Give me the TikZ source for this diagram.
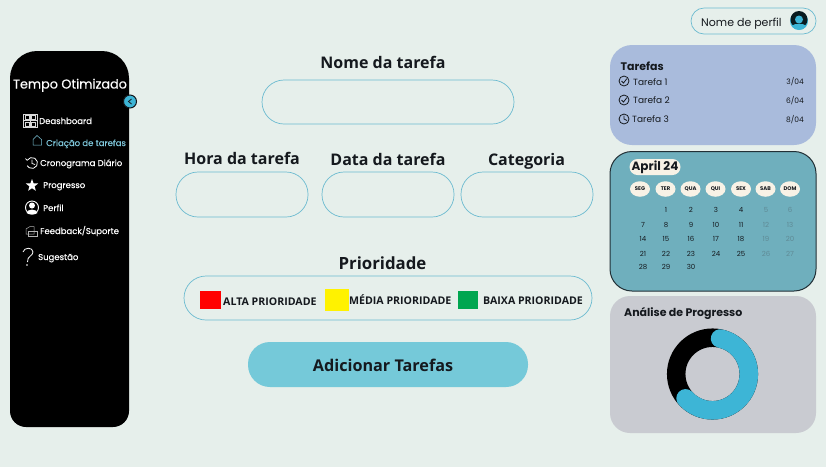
\documentclass[tikz,border=0pt]{standalone}
\usepackage{fontspec}
\setmainfont{Open Sans}
\newfontfamily\popf{Poppins}
\newfontfamily\popm[FakeBold=0.35]{Poppins}
\usetikzlibrary{shapes.geometric}
\newcommand{\fsz}[1]{\fontsize{#1}{#1}\selectfont}
\definecolor{bgc}{HTML}{E6EFEB}
\definecolor{linec}{HTML}{6CBBD0}
\definecolor{taskc}{HTML}{A9BBDC}
\definecolor{calc}{HTML}{6FAFBD}
\definecolor{anac}{HTML}{C9CBD1}
\definecolor{btnc}{HTML}{75C9D9}
\definecolor{ringc}{HTML}{3DB5D6}
\definecolor{creamc}{HTML}{F8F2E6}
\definecolor{linkc}{HTML}{7FC8DC}
\definecolor{inkc}{HTML}{15191E}
\definecolor{weekc}{HTML}{5F8A95}
\definecolor{greenc}{HTML}{00A650}
\tikzset{
 x=1pt,y=-1pt,
 field/.style={draw=linec,line width=.7pt,rounded corners=22pt},
 panel/.style={rounded corners=22pt},
 head/.style={font=\fsz{16}\bfseries,text=inkc,inner sep=0pt,anchor=base},
 prio/.style={font=\fsz{10.6}\bfseries,text=inkc,anchor=base west,inner sep=0pt},
 side/.style={font=\popm\fsz{8.5},text=white,anchor=base west,inner sep=0pt},
 task/.style={font=\popf\fsz{9},text=inkc,anchor=base west,inner sep=0pt},
 tdate/.style={font=\popf\fsz{7.5},text=inkc,anchor=base east,inner sep=0pt},
 ptitle/.style={font=\popf\fsz{11}\bfseries,text=inkc,anchor=base west,inner sep=0pt},
 wday/.style={font=\popf\fsz{5.3}\bfseries,text=inkc,fill=creamc,ellipse,inner sep=0pt,minimum width=20pt,minimum height=15.5pt},
 dnum/.style={font=\popf\fsz{7},text=inkc,inner sep=0pt},
 dwk/.style={font=\popf\fsz{7},text=weekc,inner sep=0pt},
 ico/.style={draw=inkc,line width=.8pt},
 wico/.style={draw=white,line width=.6pt},
}
\begin{document}
\begin{tikzpicture}
\useasboundingbox (0,0) rectangle (826,467);
\fill[bgc] (0,0) rectangle (826,467);

% sidebar
\fill[black] (10,200) [rounded corners=27pt] -- (10,51) -- (129,51) -- (129,200) [rounded corners=16pt] -- (129,427) -- (10,427) -- cycle;
\node[font=\popm\fsz{12.8},text=white,inner sep=0pt,anchor=base] (brand) at (70,88.5) {Tempo Otimizado};
\fill[ringc,draw=inkc,line width=1pt] (130,101.5) circle (6.5);
\draw[inkc,line width=.8pt] (131.5,99) -- (128.5,101.5) -- (131.5,104);
\node[side] (n1) at (39,124) {Deashboard};
\node[side,text=linkc] (n2) at (46,146) {Criação de tarefas};
\node[side] (n3) at (40,166) {Cronograma Diário};
\node[side] (n4) at (43,188) {Progresso};
\node[side] (n5) at (43,211) {Perfil};
\node[side] (n6) at (40,234) {Feedback/Suporte};
\node[side] (n7) at (38,260) {Sugestão};
% sidebar icons
\draw[white!85!black,line width=.5pt] (23.5,114) rectangle (37,127.5);
\foreach \a/\b/\c/\d in {25/115.5/29/119.5,31/115.5/35.5/119.5,25/122/29/126,31.5/122/35.5/126}
  \draw[white!85!black,line width=.45pt] (\a,\b) rectangle (\c,\d);
\draw[white!85!black,line width=.45pt] (23.5,120.7) -- (37,120.7) (30.2,114) -- (30.2,127.5);
\draw[linkc,line width=.5pt] (33,145) -- (33,139.5) -- (37,135.5) -- (41.5,139.5) -- (41.5,145) -- cycle;
\draw[wico,line width=.8pt] (32,163) ++(-150:5.5) arc[start angle=-150,end angle=150,radius=5.5];
\draw[wico,line width=.7pt] (32,159.5) -- (32,163.5) -- (35,164.5);
\draw[wico,line width=.7pt] (25.5,158.5) -- (27.2,160.5);
\node[star,star points=5,star point ratio=2.4,fill=white,inner sep=0pt,minimum size=13pt] (s4) at (32,185.5) {};
\draw[wico,line width=.9pt] (32,207.5) circle (6.5);
\fill[white] (32,205.5) circle (3);
\fill[white] (26.5,213) .. controls (27,208.5) and (37,208.5) .. (37.5,213) .. controls (35,215) and (29,215) .. (26.5,213);
\draw[white!70!black,line width=.5pt] (26,229) -- (30,226.5) -- (34,226.5) -- (34,234) -- (26,234) -- cycle;
\draw[white!70!black,line width=.5pt] (28,231) -- (37,231) -- (37,236) -- (28,236) -- cycle;
\draw[wico,line width=.8pt] (23,252) .. controls (24,247) and (33,247) .. (33,252) .. controls (33,256) and (27,256) .. (27.5,262);
\fill[white] (27,265) circle (.8);

% top-right profile
\node[draw=linec,line width=.7pt,fill=bgc,rounded corners=13pt,minimum width=125pt,minimum height=26pt,inner sep=0pt] (pill) at (753.5,21) {};
\node[font=\popf\fsz{11},text=inkc,anchor=base west,inner sep=0pt] (pname) at (701,26) {Nome de perfil};
\fill[ringc] (799,21) circle (9);
\fill[black!85!ringc] (799,19.5) circle (8.5);
\fill[ringc] (799,19.5) circle (4);
\fill[ringc] (791.5,26) .. controls (794,23) and (804,23) .. (806.5,26) .. controls (803,31) and (795,31) .. (791.5,26);

% tasks panel
\fill[taskc,panel] (610,45) rectangle (816,145);
\node[ptitle] (t0) at (620.5,70) {Tarefas};
\node[task] (t1) at (633,85) {Tarefa 1};
\node[task] (t2) at (633,103) {Tarefa 2};
\node[task] (t3) at (632,122) {Tarefa 3};
\node[tdate] (d1) at (804,84) {3/04};
\node[tdate] (d2) at (804,103) {6/04};
\node[tdate] (d3) at (804,122) {8/04};
\draw[ico] (624,81) circle (5);
\draw[ico] (621.5,81) -- (623.5,83) -- (627,78.5);
\draw[ico] (624,100) circle (5);
\draw[ico] (621.5,100) -- (623.5,102) -- (627,97.5);
\draw[ico] (624,119) circle (5);
\draw[ico] (624,115.5) -- (624,119) -- (627,120.5);

% calendar
\draw[fill=calc,draw=inkc!85!calc,line width=1pt,panel] (610,151.5) rectangle (816,291);
\node[fill=creamc,rounded corners=8pt,minimum width=51pt,minimum height=16pt,inner sep=0pt,font=\popf\fsz{12}\bfseries,text=inkc] (month) at (655,167) {April 24};
\foreach \nm/\x in {SEG/640,TER/665.5,QUA/690.5,QUI/715.5,SEX/741,SAB/765.5,DOM/790}
  \node[wday] (w\nm) at (\x,189) {\nm};
\foreach \nm/\x/\y in {1/666/210,2/691/210,3/716/210,4/741/210,
  7/643/225,8/666/225,9/691/225,10/716/225,11/741/225,
  14/643/239,15/666/239,16/691/239,17/716/239,18/741/239,
  21/643/254,22/666/254,23/691/254,24/716/254,25/741/254,
  28/643/267,29/666/267,30/691/267}
  \node[dnum] (c\nm) at (\x,\y) {\nm};
\foreach \nm/\x/\y in {5/766/210,6/790/210,12/766/225,13/790/225,19/766/239,20/790/239,26/766/254,27/790/254}
  \node[dwk] (c\nm) at (\x,\y) {\nm};

% analysis
\fill[anac,rounded corners=20pt] (610,296) rectangle (816,433);
\node[ptitle] (an) at (624,316) {Análise de Progresso};
\draw[black,line width=18.5pt] (712.5,374) circle (36.3);
\draw[ringc,line width=18.5pt,line cap=round] (712.5,374) ++(-78:36.3) arc[start angle=-78,end angle=138,radius=36.3];

% form
\node[head] (h1) at (383,68) {Nome da tarefa};
\draw[field] (262,80) rectangle (514,124);
\node[head] (h2) at (242,164) {Hora da tarefa};
\node[head] (h3) at (388,165) {Data da tarefa};
\node[head] (h4) at (526.5,165) {Categoria};
\draw[field] (176,172) rectangle (308,217);
\draw[field] (322,172) rectangle (454,217);
\draw[field] (461,172) rectangle (593,217);
\node[head,font=\fsz{16.8}\bfseries] (h5) at (382.5,269) {Prioridade};
\draw[field] (184,276) rectangle (592,320);
\fill[red] (200,291) rectangle (221,309);
\fill[yellow] (325,289) rectangle (349,311);
\fill[greenc] (458,291) rectangle (478,309);
\node[prio] (p1) at (223,305) {ALTA PRIORIDADE};
\node[prio] (p2) at (349,304) {MÉDIA PRIORIDADE};
\node[prio] (p3) at (483,304) {BAIXA PRIORIDADE};
\fill[btnc,rounded corners=22pt] (248,342) rectangle (528,387);
\node[head,font=\fsz{16.2}\bfseries] (add) at (383,371) {Adicionar Tarefas};
\end{tikzpicture}
\end{document}
